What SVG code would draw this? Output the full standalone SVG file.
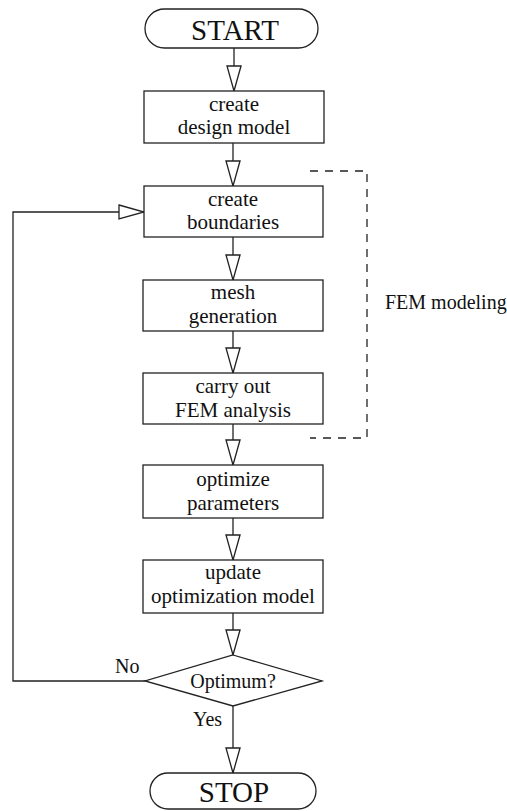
<svg xmlns="http://www.w3.org/2000/svg" width="507" height="811" viewBox="0 0 507 811">
<style>
.box{fill:#fff;stroke:#222;stroke-width:1.3}
.ln{fill:none;stroke:#222;stroke-width:1.3}
.t{font-family:'Liberation Serif','Tinos','Times New Roman',Times,'DejaVu Serif',serif;font-size:21px;fill:#111;text-anchor:middle}
.big{font-size:29px}
.lbl{font-family:'Liberation Serif','Tinos','Times New Roman',Times,'DejaVu Serif',serif;font-size:20px;fill:#111}
</style>
<defs>
<marker id="ah" markerUnits="userSpaceOnUse" viewBox="-1 -1 27 16" refX="25" refY="7" markerWidth="27" markerHeight="16" orient="auto" overflow="visible">
<path d="M0,0 L25,7 L0,14 Z" fill="#fff" stroke="#222" stroke-width="1.3" stroke-linejoin="miter"/>
</marker>
</defs>
<rect width="507" height="811" fill="#fff"/>
<g id="connectors">
<line class="ln" x1="234" y1="48" x2="234" y2="91" marker-end="url(#ah)"/>
<line class="ln" x1="233" y1="143" x2="233" y2="186" marker-end="url(#ah)"/>
<line class="ln" x1="233" y1="237" x2="233" y2="280" marker-end="url(#ah)"/>
<line class="ln" x1="233" y1="331" x2="233" y2="373" marker-end="url(#ah)"/>
<line class="ln" x1="233" y1="424" x2="233" y2="465" marker-end="url(#ah)"/>
<line class="ln" x1="233" y1="518" x2="233" y2="560" marker-end="url(#ah)"/>
<line class="ln" x1="233" y1="613" x2="233" y2="655" marker-end="url(#ah)"/>
<line class="ln" x1="233" y1="706" x2="233" y2="773" marker-end="url(#ah)"/>
<polyline class="ln" points="145,681 13,681 13,212 144,212" marker-end="url(#ah)"/>
<text class="lbl" x="115" y="673">No</text>
<text class="lbl" x="193" y="726">Yes</text>
</g>
<g id="fem-group">
<path class="ln" d="M310,171 H367 V438 H310" stroke-dasharray="8,7"/>
<text class="lbl" x="385" y="309">FEM modeling</text>
</g>
<g id="start">
<rect class="box" x="145" y="9" width="173" height="39" rx="19.5"/>
<text class="t big" x="235" y="40">START</text>
</g>
<g id="design-model">
<rect class="box" x="144" y="91" width="180" height="52"/>
<text class="t" x="234" y="111">create</text>
<text class="t" x="234" y="134">design model</text>
</g>
<g id="boundaries">
<rect class="box" x="144" y="186" width="179" height="51"/>
<text class="t" x="233" y="206">create</text>
<text class="t" x="233" y="229">boundaries</text>
</g>
<g id="mesh">
<rect class="box" x="143" y="280" width="180" height="51"/>
<text class="t" x="233" y="299">mesh</text>
<text class="t" x="233" y="323">generation</text>
</g>
<g id="fem-analysis">
<rect class="box" x="143" y="373" width="180" height="51"/>
<text class="t" x="233" y="393">carry out</text>
<text class="t" x="233" y="417">FEM analysis</text>
</g>
<g id="optimize">
<rect class="box" x="143" y="465" width="180" height="53"/>
<text class="t" x="233" y="486">optimize</text>
<text class="t" x="233" y="510">parameters</text>
</g>
<g id="update">
<rect class="box" x="143" y="560" width="180" height="53"/>
<text class="t" x="233" y="579">update</text>
<text class="t" x="233" y="603">optimization model</text>
</g>
<g id="optimum">
<polygon class="box" points="233,655 322,681 233,706 145,681"/>
<text class="lbl" x="233" y="688" text-anchor="middle">Optimum?</text>
</g>
<g id="stop">
<rect class="box" x="150" y="773" width="166" height="36" rx="18"/>
<text class="t big" x="234" y="802">STOP</text>
</g>
</svg>
